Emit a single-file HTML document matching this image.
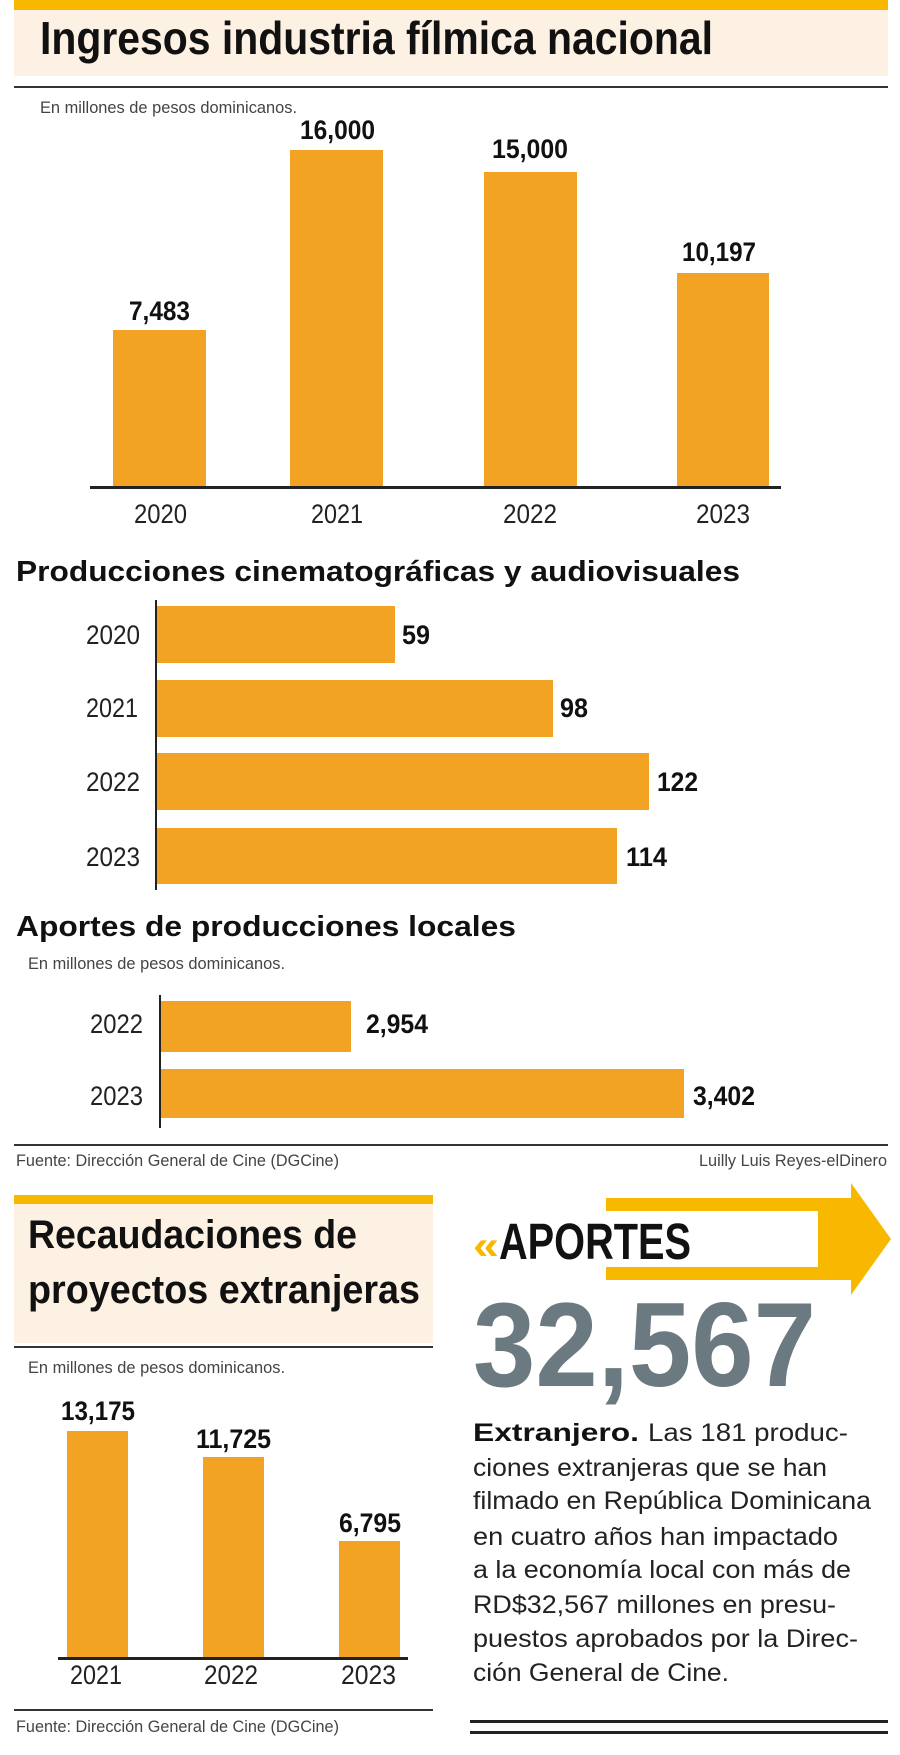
<!DOCTYPE html>
<html><head><meta charset="utf-8"><style>html,body{margin:0;padding:0;background:#fff}svg{display:block}</style></head><body>
<svg width="900" height="1755" viewBox="0 0 900 1755" xmlns="http://www.w3.org/2000/svg" font-family="'Liberation Sans', sans-serif">
<rect x="14" y="0" width="874" height="10" fill="#f8b800"/>
<rect x="14" y="10" width="874" height="66" fill="#fdf1e3"/>
<text x="40" y="54" font-size="46" font-weight="bold" textLength="673" lengthAdjust="spacingAndGlyphs" fill="#111">Ingresos industria fílmica nacional</text>
<rect x="14" y="86" width="874" height="2" fill="#333"/>
<text x="40" y="113" font-size="17" fill="#444" textLength="257" lengthAdjust="spacingAndGlyphs">En millones de pesos dominicanos.</text>
<g fill="#f2a324">
<rect x="113" y="330" width="93" height="158"/>
<rect x="290" y="150" width="93" height="338"/>
<rect x="484" y="172" width="93" height="316"/>
<rect x="677" y="273" width="92" height="215"/>
</g>
<rect x="90" y="486" width="691" height="3" fill="#222"/>
<g font-size="27" font-weight="bold" fill="#111">
<text x="129" y="320" textLength="61" lengthAdjust="spacingAndGlyphs">7,483</text>
<text x="300" y="139" textLength="75" lengthAdjust="spacingAndGlyphs">16,000</text>
<text x="492" y="158" textLength="76" lengthAdjust="spacingAndGlyphs">15,000</text>
<text x="682" y="261" textLength="74" lengthAdjust="spacingAndGlyphs">10,197</text>
</g>
<g font-size="27" fill="#222">
<text x="134" y="523" textLength="53" lengthAdjust="spacingAndGlyphs">2020</text>
<text x="311" y="523" textLength="52" lengthAdjust="spacingAndGlyphs">2021</text>
<text x="503" y="523" textLength="54" lengthAdjust="spacingAndGlyphs">2022</text>
<text x="696" y="523" textLength="54" lengthAdjust="spacingAndGlyphs">2023</text>
</g>
<text x="16" y="581" font-size="29" font-weight="bold" fill="#111" textLength="724" lengthAdjust="spacingAndGlyphs">Producciones cinematográficas y audiovisuales</text>
<rect x="155" y="600" width="2" height="290" fill="#222"/>
<g fill="#f2a324">
<rect x="157" y="606" width="238" height="57"/>
<rect x="157" y="680" width="396" height="57"/>
<rect x="157" y="753" width="492" height="57"/>
<rect x="157" y="828" width="460" height="56"/>
</g>
<g font-size="27" fill="#222">
<text x="86" y="644" textLength="54" lengthAdjust="spacingAndGlyphs">2020</text>
<text x="86" y="717" textLength="52" lengthAdjust="spacingAndGlyphs">2021</text>
<text x="86" y="791" textLength="54" lengthAdjust="spacingAndGlyphs">2022</text>
<text x="86" y="866" textLength="54" lengthAdjust="spacingAndGlyphs">2023</text>
<text x="90" y="1033" textLength="53" lengthAdjust="spacingAndGlyphs">2022</text>
<text x="90" y="1105" textLength="53" lengthAdjust="spacingAndGlyphs">2023</text>
</g>
<g font-size="27" font-weight="bold" fill="#111">
<text x="402" y="644" textLength="28" lengthAdjust="spacingAndGlyphs">59</text>
<text x="560" y="717" textLength="28" lengthAdjust="spacingAndGlyphs">98</text>
<text x="657" y="791" textLength="41" lengthAdjust="spacingAndGlyphs">122</text>
<text x="626" y="866" textLength="41" lengthAdjust="spacingAndGlyphs">114</text>
<text x="366" y="1033" textLength="62" lengthAdjust="spacingAndGlyphs">2,954</text>
<text x="693" y="1105" textLength="62" lengthAdjust="spacingAndGlyphs">3,402</text>
</g>
<text x="16" y="936" font-size="29" font-weight="bold" fill="#111" textLength="500" lengthAdjust="spacingAndGlyphs">Aportes de producciones locales</text>
<text x="28" y="969" font-size="17" fill="#444" textLength="257" lengthAdjust="spacingAndGlyphs">En millones de pesos dominicanos.</text>
<rect x="159" y="995" width="2" height="133" fill="#222"/>
<rect x="161" y="1001" width="190" height="51" fill="#f2a324"/>
<rect x="161" y="1069" width="523" height="49" fill="#f2a324"/>
<rect x="14" y="1144" width="874" height="2" fill="#333"/>
<text x="16" y="1166" font-size="17" fill="#444" textLength="323" lengthAdjust="spacingAndGlyphs">Fuente: Dirección General de Cine (DGCine)</text>
<text x="699" y="1166" font-size="17" fill="#444" textLength="188" lengthAdjust="spacingAndGlyphs">Luilly Luis Reyes-elDinero</text>
<rect x="14" y="1195" width="419" height="9" fill="#f8b800"/>
<rect x="14" y="1204" width="419" height="139" fill="#fdf1e3"/>
<rect x="14" y="1346" width="419" height="2" fill="#333"/>
<text x="28" y="1248" font-size="40" font-weight="bold" fill="#111" textLength="329" lengthAdjust="spacingAndGlyphs">Recaudaciones de</text>
<text x="28" y="1303" font-size="40" font-weight="bold" fill="#111" textLength="392" lengthAdjust="spacingAndGlyphs">proyectos extranjeras</text>
<text x="28" y="1373" font-size="17" fill="#444" textLength="257" lengthAdjust="spacingAndGlyphs">En millones de pesos dominicanos.</text>
<g fill="#f2a324">
<rect x="67" y="1431" width="61" height="227"/>
<rect x="203" y="1457" width="61" height="201"/>
<rect x="339" y="1541" width="61" height="117"/>
</g>
<rect x="58" y="1657" width="350" height="3" fill="#222"/>
<g font-size="27" font-weight="bold" fill="#111">
<text x="61" y="1420" textLength="74" lengthAdjust="spacingAndGlyphs">13,175</text>
<text x="196" y="1448" textLength="75" lengthAdjust="spacingAndGlyphs">11,725</text>
<text x="339" y="1532" textLength="62" lengthAdjust="spacingAndGlyphs">6,795</text>
</g>
<g font-size="27" fill="#222">
<text x="70" y="1684" textLength="52" lengthAdjust="spacingAndGlyphs">2021</text>
<text x="204" y="1684" textLength="54" lengthAdjust="spacingAndGlyphs">2022</text>
<text x="341" y="1684" textLength="55" lengthAdjust="spacingAndGlyphs">2023</text>
</g>
<rect x="14" y="1709" width="419" height="2" fill="#333"/>
<text x="16" y="1732" font-size="17" fill="#444" textLength="323" lengthAdjust="spacingAndGlyphs">Fuente: Dirección General de Cine (DGCine)</text>
<polygon points="606,1198 851,1198 851,1183 891,1239 851,1295 851,1280 606,1280" fill="#f8b800"/>
<rect x="606" y="1211" width="212" height="56" fill="#fff"/>
<text x="473" y="1259" font-size="40" font-weight="bold" fill="#f8b800" textLength="26" lengthAdjust="spacingAndGlyphs">«</text>
<text x="499" y="1259" font-size="51" font-weight="bold" fill="#111" textLength="192" lengthAdjust="spacingAndGlyphs">APORTES</text>
<text x="473" y="1386" font-size="120" font-weight="bold" fill="#6b7a80" textLength="343" lengthAdjust="spacingAndGlyphs">32,567</text>
<g font-size="25" fill="#222">
<text x="473" y="1441" font-weight="bold" fill="#111" textLength="166" lengthAdjust="spacingAndGlyphs">Extranjero.</text>
<text x="648" y="1441" textLength="200" lengthAdjust="spacingAndGlyphs">Las 181 produc-</text>
<text x="473" y="1476" textLength="354" lengthAdjust="spacingAndGlyphs">ciones extranjeras que se han</text>
<text x="473" y="1509" textLength="398" lengthAdjust="spacingAndGlyphs">filmado en República Dominicana</text>
<text x="473" y="1545" textLength="365" lengthAdjust="spacingAndGlyphs">en cuatro años han impactado</text>
<text x="473" y="1578" textLength="378" lengthAdjust="spacingAndGlyphs">a la economía local con más de</text>
<text x="473" y="1613" textLength="363" lengthAdjust="spacingAndGlyphs">RD$32,567 millones en presu-</text>
<text x="473" y="1647" textLength="385" lengthAdjust="spacingAndGlyphs">puestos aprobados por la Direc-</text>
<text x="473" y="1681" textLength="256" lengthAdjust="spacingAndGlyphs">ción General de Cine.</text>
</g>
<rect x="470" y="1720" width="418" height="3" fill="#222"/>
<rect x="470" y="1731" width="418" height="3" fill="#222"/>
</svg>
</body></html>
